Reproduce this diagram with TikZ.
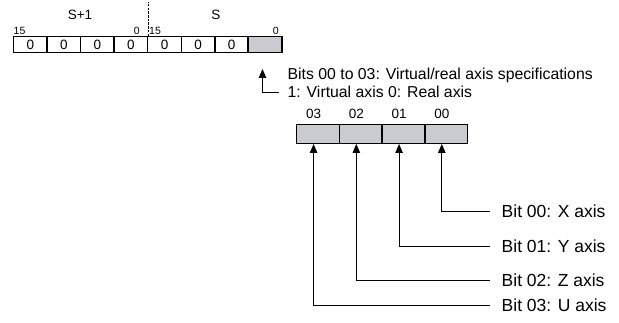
\documentclass[tikz,border=0pt]{standalone}
\usepackage{fontspec}
\setmainfont{Liberation Sans}
\usetikzlibrary{arrows.meta}
\definecolor{cellgray}{HTML}{C9CBD1}
\tikzset{
  cell/.style={draw, line width=1.4pt, minimum width=33.6pt, minimum height=15.5pt, inner sep=0pt, font=\fontsize{13.5}{13.5}\selectfont},
  gcell/.style={draw, line width=1.4pt, fill=cellgray, minimum width=42.75pt, minimum height=18.5pt, inner sep=0pt},
  small/.style={inner sep=0pt, font=\fontsize{10.5}{10.5}\selectfont},
  mid/.style={inner sep=0pt, font=\fontsize{13.5}{13.5}\selectfont},
  lbl/.style={inner sep=0pt, anchor=west, font=\fontsize{17.5}{17.5}\selectfont},
  conn/.style={line width=0.9pt, -{Triangle[length=9pt,width=7.5pt]}},
}
\begin{document}
\begin{tikzpicture}[x=1pt,y=-1pt]
\useasboundingbox (0,0) rectangle (619,323);
% top register
\foreach \i in {0,...,6}{
  \node[cell] (c\i) at ({13.5+33.56*\i+16.78},44.5) {0};
}
\node[cell, fill=cellgray] (c7) at ({13.5+33.56*7+16.78},44.5) {};
\draw[line width=2.2pt] (c7.north west) -- (c7.south west);
\draw[line width=1.3pt, dash pattern=on 2.5pt off 1.2pt] (c3.north east) -- ++(0,-34);
\node[mid] (sp1) at (80,15) {S+1};
\node[mid] (s) at (216,15) {S};
\node[small, anchor=south west] (n15a) at (13.5,35) {15};
\node[small, anchor=south east] (n0a) at (140,35) {0};
\node[small, anchor=south west] (n15b) at (149,35) {15};
\node[small, anchor=south east] (n0b) at (279,35) {0};
% description
\node[lbl, font=\fontsize{15.8}{15.8}\selectfont] (d1) at (287.5,75) {Bits 00 to 03: Virtual/real axis specifications};
\node[lbl, font=\fontsize{15.8}{15.8}\selectfont] (d2) at (287.5,92) {1: Virtual axis 0: Real axis};
\coordinate (tip) at (262.5,69);
\draw[conn] ([xshift=-9pt]d2.west) -| (tip);
% lower register
\foreach \j/\b in {0/03,1/02,2/01,3/00}{
  \node[gcell] (b\j) at ({296.7+42.75*\j+21.375},134) {};
  \node[mid] (h\j) at ([xshift=-4.5pt,yshift=10pt]b\j.north) {\b};
}
\draw[line width=2pt] (b2.north west) -- (b2.south west);
\node[lbl] (t3) at (501.5,211) {Bit 00: X axis};
\node[lbl] (t2) at (501.5,246.5) {Bit 01: Y axis};
\node[lbl] (t1) at (501.5,280) {Bit 02: Z axis};
\node[lbl] (t0) at (501.5,305) {Bit 03: U axis};
\foreach \j in {0,...,3}{
  \draw[conn] ([xshift=-11.5pt]t\j.west) -| ([xshift=-4.5pt]b\j.south);
}
\end{tikzpicture}
\end{document}
